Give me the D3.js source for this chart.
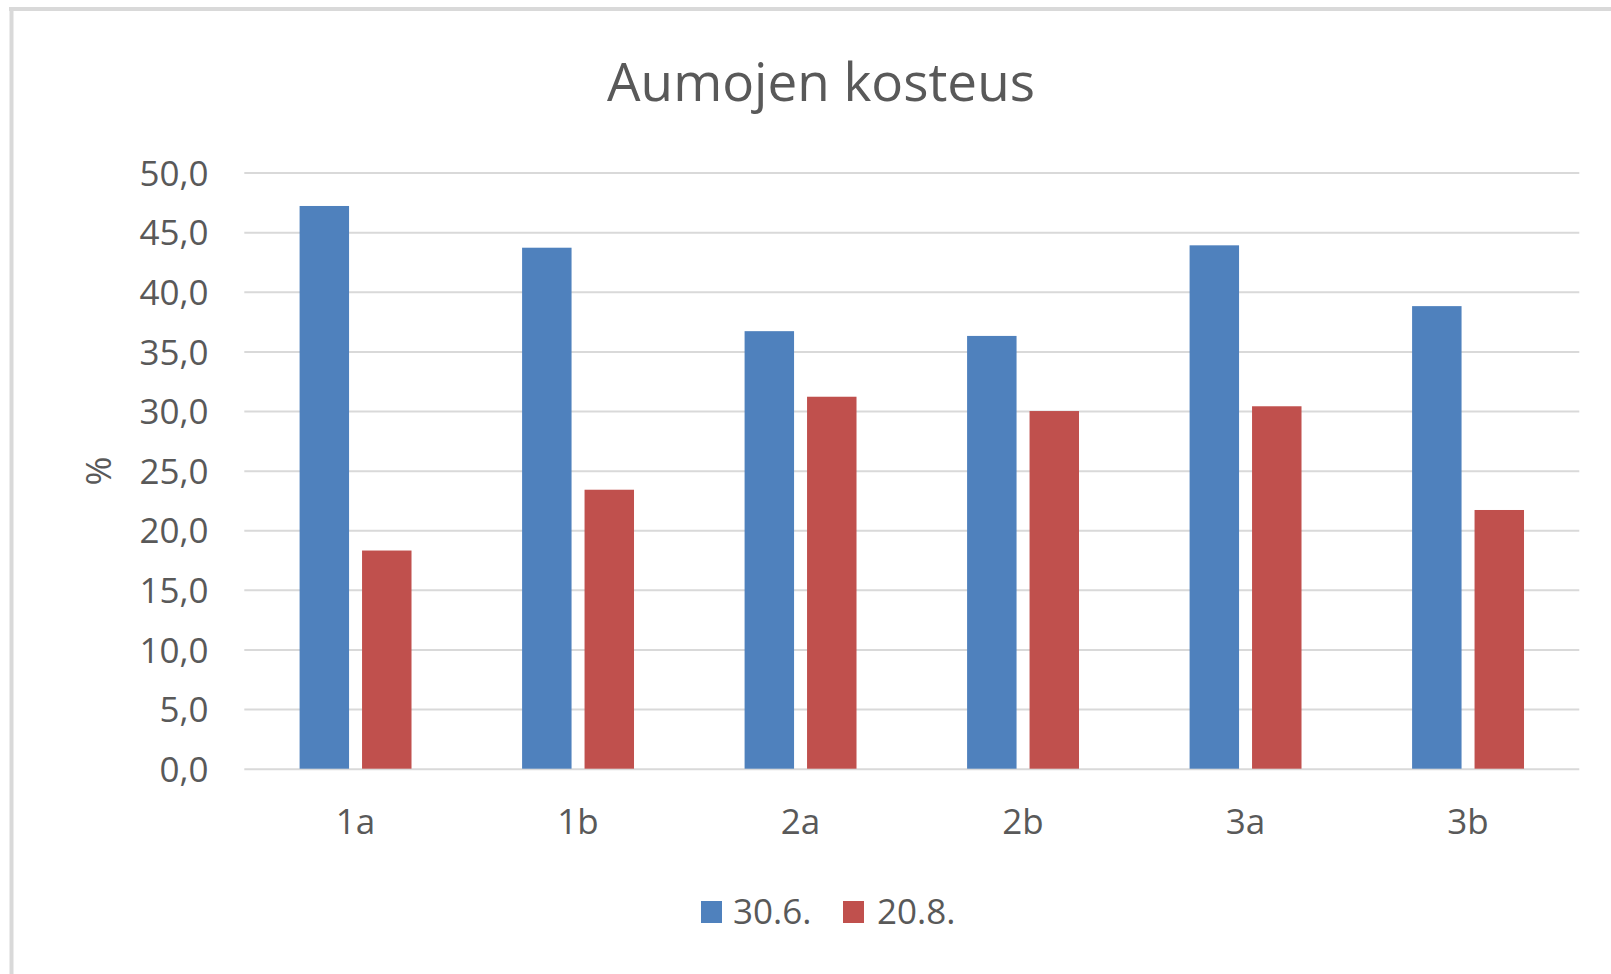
<!DOCTYPE html>
<html>
<head>
<meta charset="utf-8">
<script src="https://cdn.jsdelivr.net/npm/d3@7"></script>
<style>
  html, body { margin: 0; padding: 0; background: #ffffff; }
  svg { display: block; }
</style>
</head>
<body>
<svg id="chart" width="1611" height="974"></svg>
<script>
// ---- Data ----
const categories = ["1a", "1b", "2a", "2b", "3a", "3b"];
const seriesNames = ["30.6.", "20.8."];
const values_30_6 = [47.2, 43.7, 36.7, 36.3, 43.9, 38.8];
const values_20_8 = [18.3, 23.4, 31.2, 30.0, 30.4, 21.7];
const yTicks = [0, 5, 10, 15, 20, 25, 30, 35, 40, 45, 50];
const titleText = "Aumojen kosteus";
const yAxisTitle = "%";

// ---- Styles ----
const colors = ["#4f81bd", "#c0504d"];
const textColor = "#595959";
const gridColor = "#d9d9d9";
const fontFamily = "'Open Sans', 'Noto Sans', sans-serif";

const svg = d3.select("#chart");

// Chart frame (partial border as in the reference crop)
svg.append("rect").attr("x", 0).attr("y", 0).attr("width", 1611).attr("height", 974).attr("fill", "#ffffff");
svg.append("line").attr("x1", 9).attr("x2", 1611).attr("y1", 9).attr("y2", 9)
  .attr("stroke", gridColor).attr("stroke-width", 4);
svg.append("line").attr("x1", 11.5).attr("x2", 11.5).attr("y1", 7).attr("y2", 974)
  .attr("stroke", gridColor).attr("stroke-width", 4);

// Plot area
const plot = { left: 244.3, right: 1579.3, top: 172.6, bottom: 768.7 };

const y = d3.scaleLinear().domain([0, 50]).range([plot.bottom, plot.top]);
const x0 = d3.scaleBand().domain(categories).range([plot.left, plot.right])
  .paddingInner(0.497).paddingOuter(0.2485);
const x1 = d3.scaleBand().domain(seriesNames).range([0, x0.bandwidth()])
  .paddingInner(0.208).paddingOuter(0);

// Gridlines
const yAxisGrid = d3.axisLeft(y).tickValues(yTicks)
  .tickSize(-(plot.right - plot.left)).tickFormat("");
const gGrid = svg.append("g").attr("transform", `translate(${plot.left},0)`).call(yAxisGrid);
gGrid.select(".domain").remove();
gGrid.selectAll(".tick line").attr("stroke", gridColor).attr("stroke-width", 2);

// Y tick labels
const fmt = v => v.toFixed(1).replace(".", ",");
const yAxis = d3.axisLeft(y).tickValues(yTicks).tickSize(0).tickPadding(0).tickFormat(fmt);
const gY = svg.append("g").attr("transform", `translate(208.6,0)`).call(yAxis);
gY.select(".domain").remove();
gY.selectAll("text").attr("fill", textColor).attr("font-family", fontFamily)
  .attr("font-size", 35).attr("dy", "0.36em");

// Bars
const data = categories.map((c, i) => ({ cat: c, vals: [values_30_6[i], values_20_8[i]] }));
const groups = svg.append("g").selectAll("g").data(data).join("g")
  .attr("transform", d => `translate(${x0(d.cat)},0)`);
groups.selectAll("rect").data(d => d.vals.map((v, j) => ({ name: seriesNames[j], v, j })))
  .join("rect")
  .attr("x", d => x1(d.name))
  .attr("width", x1.bandwidth())
  .attr("y", d => y(d.v))
  .attr("height", d => y(0) - y(d.v))
  .attr("fill", d => colors[d.j]);

// X axis labels
const xAxis = d3.axisBottom(x0).tickSize(0).tickPadding(0);
const gX = svg.append("g").attr("transform", `translate(0,${plot.bottom})`).call(xAxis);
gX.select(".domain").remove();
gX.selectAll("text").attr("fill", textColor).attr("font-family", fontFamily)
  .attr("font-size", 35).attr("dy", null).attr("y", 65);

// Title
svg.append("text").attr("x", 821).attr("y", 101).attr("text-anchor", "middle")
  .attr("fill", textColor).attr("font-family", fontFamily).attr("font-size", 53)
  .text(titleText);

// Y axis title
svg.append("text").attr("transform", "translate(97,471) rotate(-90)")
  .attr("text-anchor", "middle").attr("dominant-baseline", "central")
  .attr("fill", textColor).attr("font-family", fontFamily).attr("font-size", 35)
  .text(yAxisTitle);

// Legend
const legend = svg.append("g");
const legendItems = [{ sx: 701, tx: 733 }, { sx: 843, tx: 877 }];
seriesNames.forEach((name, i) => {
  legend.append("rect").attr("x", legendItems[i].sx).attr("y", 901)
    .attr("width", 21).attr("height", 22).attr("fill", colors[i]);
  legend.append("text").attr("x", legendItems[i].tx).attr("y", 924)
    .attr("fill", textColor).attr("font-family", fontFamily).attr("font-size", 35)
    .text(name);
});
</script>
</body>
</html>
